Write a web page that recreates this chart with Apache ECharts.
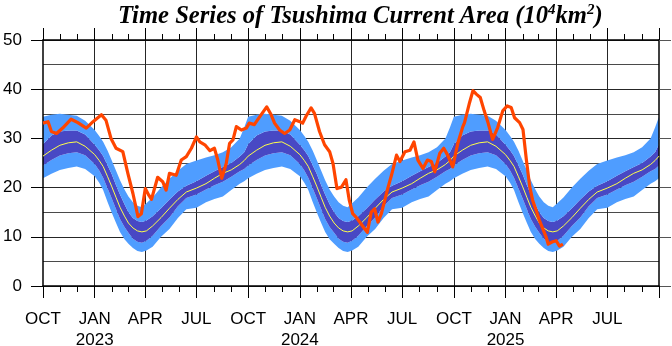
<!DOCTYPE html>
<html><head><meta charset="utf-8">
<script src="https://cdn.jsdelivr.net/npm/echarts@6/dist/echarts.min.js"></script>
<style>html,body{margin:0;padding:0;background:#fff}#c{width:672px;height:346px}</style>
</head><body><div id="c"></div>
<script>
// ---- climatology (one annual cycle, MM-DD from Oct 1), repeated for each season shown ----
const climDates = ['10-01','10-16','10-31','11-15','11-30','12-15','01-01','01-09','01-16','01-24','01-31','02-08','02-15','02-23','03-02','03-10','03-18','03-26','04-03','04-14','04-29','05-14','05-29','06-13','07-01','07-18','08-02','08-17','09-01','09-16','09-24'];
const climLightLo = [21.9,22.8,23.6,24.0,24.3,23.8,22.3,21.0,19.5,17.0,15.0,12.8,11.0,9.5,8.6,7.7,7.1,6.9,7.2,8.0,10.0,11.6,13.8,15.6,15.9,17.0,17.7,18.2,19.5,20.8,21.3];
const climDarkLo  = [24.5,25.6,26.5,27.0,27.2,26.6,24.8,23.5,22.0,19.8,17.9,15.6,13.6,12.0,10.8,9.6,9.0,8.8,9.2,10.2,12.2,13.9,16.2,17.9,18.6,19.6,20.5,21.2,22.2,23.3,23.8];
const climMean    = [26.4,27.6,28.6,29.1,29.3,28.4,26.7,25.5,24.3,22.2,20.3,18.0,16.0,14.2,12.8,11.8,11.2,11.0,11.2,12.2,13.9,15.8,17.6,19.1,19.9,20.8,21.9,22.9,23.6,24.7,25.5];
const climDarkHi  = [28.8,30.6,31.4,31.6,31.6,30.8,28.7,27.6,26.4,24.5,22.8,20.5,18.6,16.6,15.0,13.8,13.2,13.0,13.3,14.2,15.8,17.6,19.2,20.4,21.3,22.4,23.3,24.2,25.0,26.3,27.2];
const climLightHi = [34.4,34.8,35.0,34.8,34.6,33.6,31.7,30.5,29.3,27.5,25.6,23.4,21.5,19.6,18.2,17.0,16.3,16.0,16.8,18.0,20.0,21.8,23.4,24.8,25.5,26.1,26.6,27.2,28.2,30.0,32.2];
const climYears = [2022, 2023, 2024];
const climEnd = '2025-10-01';

// ---- observed area ----
const obsDates = ['2022-10-01','2022-10-10','2022-10-16','2022-10-25','2022-11-05','2022-11-20','2022-12-02','2022-12-17','2022-12-29','2023-01-13','2023-01-21','2023-01-30','2023-02-08','2023-02-20','2023-03-01','2023-03-10','2023-03-19','2023-03-25','2023-04-01','2023-04-07','2023-04-12','2023-04-23','2023-05-02','2023-05-08','2023-05-14','2023-05-26','2023-06-04','2023-06-13','2023-06-22','2023-07-01','2023-07-07','2023-07-16','2023-07-25','2023-08-02','2023-08-08','2023-08-15','2023-08-23','2023-08-29','2023-09-04','2023-09-10','2023-09-19','2023-09-28',
'2023-10-03','2023-10-12','2023-10-18','2023-10-21','2023-11-03','2023-11-11','2023-11-17','2023-11-26','2023-12-05','2023-12-14','2023-12-23','2024-01-01','2024-01-06','2024-01-12','2024-01-21','2024-01-27','2024-02-05','2024-02-14','2024-02-23','2024-02-29','2024-03-07','2024-03-15','2024-03-23','2024-03-29','2024-04-04','2024-04-10','2024-04-19','2024-04-30','2024-05-07','2024-05-13','2024-05-19','2024-05-25','2024-05-31','2024-06-06','2024-06-12','2024-06-21','2024-06-27','2024-07-06','2024-07-15','2024-07-22','2024-07-29','2024-08-07','2024-08-15','2024-08-22','2024-08-28','2024-09-06','2024-09-13','2024-09-20','2024-09-29',
'2024-10-08','2024-10-17','2024-10-20','2024-10-29','2024-11-04','2024-11-10','2024-11-17','2024-11-24','2024-11-30','2024-12-09','2024-12-18','2024-12-27','2025-01-04','2025-01-11','2025-01-17','2025-01-26','2025-02-01','2025-02-07','2025-02-13','2025-02-18','2025-02-24','2025-03-02','2025-03-08','2025-03-14','2025-03-18','2025-03-26','2025-04-01','2025-04-07','2025-04-13'];
const obsValues = [33.1,33.4,31.4,31.0,32.1,33.9,33.2,32.1,33.4,34.8,33.7,30.0,28.0,27.3,22.9,18.8,14.1,14.7,19.8,18.5,17.6,22.1,21.2,19.5,22.9,22.5,25.6,26.3,28.0,30.3,29.3,28.7,27.5,28.0,25.6,21.9,24.9,29.0,29.7,32.4,31.7,32.1,
33.1,32.8,33.8,34.1,36.4,34.8,33.1,31.7,31.0,31.7,33.8,33.4,33.1,34.5,36.2,35.1,31.4,28.7,27.3,24.9,19.8,20.1,21.6,17.4,14.7,14.0,12.6,10.9,15.0,15.7,13.0,14.7,17.4,20.1,22.5,26.6,25.3,27.3,27.6,29.3,25.6,23.9,25.6,25.3,23.2,27.0,28.0,26.6,24.2,
29.0,32.4,33.2,37.3,39.7,39.0,38.3,35.6,33.5,29.8,32.2,35.6,36.6,36.3,34.2,33.2,31.8,25.7,20.2,17.5,15.5,13.4,11.7,10.0,8.5,9.0,9.2,8.1,8.5];

// ---- axes ----
const monthTicks = ['2022-10-01','2022-11-01','2022-12-01','2023-01-01','2023-02-01','2023-03-01','2023-04-01','2023-05-01','2023-06-01','2023-07-01','2023-08-01','2023-09-01','2023-10-01','2023-11-01','2023-12-01','2024-01-01','2024-02-01','2024-03-01','2024-04-01','2024-05-01','2024-06-01','2024-07-01','2024-08-01','2024-09-01','2024-10-01','2024-11-01','2024-12-01','2025-01-01','2025-02-01','2025-03-01','2025-04-01','2025-05-01','2025-06-01','2025-07-01','2025-08-01','2025-09-01','2025-10-01'];
const quarterTicks = ['2022-10-01','2023-01-01','2023-04-01','2023-07-01','2023-10-01','2024-01-01','2024-04-01','2024-07-01','2024-10-01','2025-01-01','2025-04-01','2025-07-01','2025-10-01'];
const quarterLabels = ['OCT','JAN\n2023','APR','JUL','OCT','JAN\n2024','APR','JUL','OCT','JAN\n2025','APR','JUL',''];
const yMin = 0, yMax = 50, yStep = 10;

const T = s => Date.parse(s + 'T00:00:00Z');
const xMin = T(quarterTicks[0]), xMax = T(quarterTicks[quarterTicks.length - 1]);
const monthX = monthTicks.map(T);
const quarterX = quarterTicks.map(T);
const labelX = quarterX.filter((t, i) => quarterLabels[i] !== '');

const climX = [];
climYears.forEach(y => climDates.forEach(md => {
  const m = +md.slice(0, 2);
  climX.push(T((m >= 10 ? y : y + 1) + '-' + md));
}));
climX.push(T(climEnd));
const rep = arr => { const o = []; climYears.forEach(() => arr.forEach(v => o.push(v))); o.push(arr[0]); return o; };
const LL = rep(climLightLo), DL = rep(climDarkLo), MM = rep(climMean), DH = rep(climDarkHi), LH = rep(climLightHi);
const pairs = (xs, ys) => xs.map((x, i) => [x, ys[i]]);
const diff = (a, b) => a.map((v, i) => +(v - b[i]).toFixed(3));

const LIGHT = '#4f9dff', DARK = '#4848c4', YEL = '#ffff4a', ORG = '#ff4500', GRID = '#262626';
const sans = 'Liberation Sans';

// stacked bands: base (invisible) -> light -> dark -> light
const band = (name, ys, color) => {
  const s = { type: 'line', name, stack: 'band', data: pairs(climX, ys), symbol: 'none', showSymbol: false,
    silent: true, z: 2, xAxisIndex: 0, yAxisIndex: 0, lineStyle: { width: 0 } };
  if (color) s.areaStyle = { color, opacity: 1 };
  return s;
};
const base = band('base', LL, null);
base.markLine = { silent: true, symbol: ['none', 'none'], label: { show: false }, z: 1, animation: false,
  lineStyle: { color: GRID, width: 1, type: 'solid' },
  data: quarterX.slice(1, -1).map(t => ({ xAxis: t })) };

const xOver = { type: 'value', min: xMin, max: xMax, z: 6, scale: true, splitLine: { show: false } };

const chart = echarts.init(document.getElementById('c'), null, { renderer: 'canvas' });
chart.setOption({
  animation: false,
  backgroundColor: '#fff',
  title: {
    text: '{a|Time Series of Tsushima Current Area (10}{s|4}{a|km}{s|2}{a|)}',
    left: 113, top: -3,
    textStyle: {
      rich: {
        a: { fontFamily: 'Liberation Serif', fontStyle: 'italic', fontWeight: 'bold', fontSize: 24.6, color: '#000', lineHeight: 30 },
        s: { fontFamily: 'Liberation Serif', fontStyle: 'italic', fontWeight: 'bold', fontSize: 15, color: '#000', lineHeight: 30, verticalAlign: 'top', padding: [1, 0, 0, 0] }
      }
    }
  },
  grid: { left: 43, right: 13, top: 40, bottom: 60, containLabel: false, outerBoundsMode: 'none' },
  xAxis: [
    { type: 'time', min: xMin, max: xMax, position: 'bottom', z: 0,
      axisLine: { show: false }, axisTick: { show: false }, axisLabel: { show: false }, splitLine: { show: false } },
    Object.assign({}, xOver, { position: 'bottom',
      axisLine: { show: true, onZero: false, lineStyle: { color: '#000', width: 1.5 } },
      axisTick: { show: true, customValues: monthX, length: 6, lineStyle: { color: '#000', width: 1 } },
      axisLabel: { show: true, customValues: labelX, margin: 23, fontSize: 17, lineHeight: 21, color: '#000', fontFamily: sans,
        formatter: v => { const i = quarterX.findIndex(t => Math.abs(t - v) < 86400000); return i >= 0 ? quarterLabels[i] : ''; } } }),
    Object.assign({}, xOver, { position: 'bottom',
      axisLine: { show: false, onZero: false },
      axisTick: { show: true, customValues: quarterX, length: 12, lineStyle: { color: '#000', width: 1 } },
      axisLabel: { show: false } }),
    Object.assign({}, xOver, { position: 'top',
      axisLine: { show: true, onZero: false, lineStyle: { color: '#000', width: 1.5 } },
      axisTick: { show: true, customValues: monthX, length: 6, lineStyle: { color: '#000', width: 1 } },
      axisLabel: { show: false } }),
    Object.assign({}, xOver, { position: 'top',
      axisLine: { show: false, onZero: false },
      axisTick: { show: true, customValues: quarterX, length: 12, lineStyle: { color: '#000', width: 1 } },
      axisLabel: { show: false } })
  ],
  yAxis: [
    { type: 'value', min: yMin, max: yMax, interval: yStep, position: 'left', z: 0,
      axisLine: { show: false }, axisTick: { show: false }, axisLabel: { show: false },
      splitLine: { show: true, lineStyle: { color: GRID, width: 1 } },
      minorTick: { show: false, splitNumber: 2 },
      minorSplitLine: { show: true, lineStyle: { color: '#4a4a4a', width: 1 } } },
    { type: 'value', min: yMin, max: yMax, interval: yStep, position: 'left', z: 6,
      axisLine: { show: true, onZero: false, lineStyle: { color: '#000', width: 1.5 } },
      axisTick: { show: true, length: 12, lineStyle: { color: '#000', width: 1 } },
      axisLabel: { margin: 21, fontSize: 17, color: '#000', fontFamily: sans },
      splitLine: { show: false } },
    { type: 'value', min: yMin, max: yMax, interval: yStep, position: 'right', z: 6,
      axisLine: { show: true, onZero: false, lineStyle: { color: '#000', width: 1.5 } },
      axisTick: { show: true, length: 12, lineStyle: { color: '#555', width: 1 } },
      axisLabel: { show: false }, splitLine: { show: false } }
  ],
  series: [
    base,
    band('lightLower', diff(DL, LL), LIGHT),
    band('dark', diff(DH, DL), DARK),
    band('lightUpper', diff(LH, DH), LIGHT),
    { type: 'line', name: 'mean', data: pairs(climX, MM), xAxisIndex: 0, yAxisIndex: 0, symbol: 'none', showSymbol: false, z: 10, silent: true,
      lineStyle: { color: YEL, width: 1 } },
    { type: 'line', name: 'obs', data: pairs(obsDates.map(T), obsValues), xAxisIndex: 0, yAxisIndex: 0, symbol: 'none', showSymbol: false, z: 11, silent: true,
      lineStyle: { color: ORG, width: 3.2, join: 'round' } }
  ]
});
</script>
</body></html>
